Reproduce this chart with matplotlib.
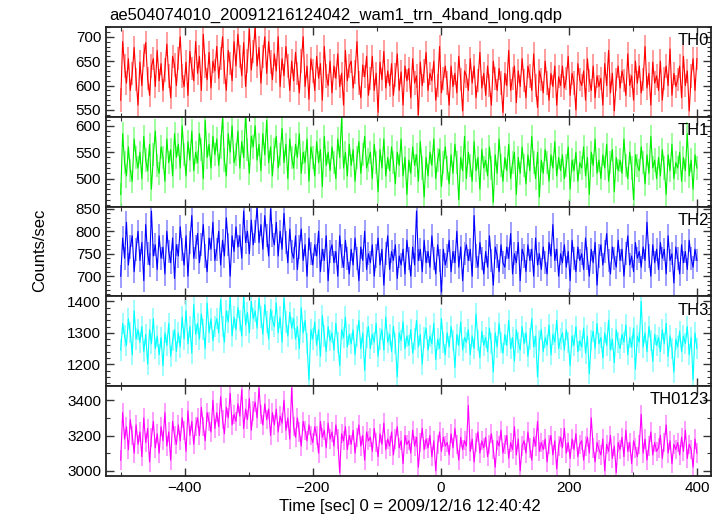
import numpy as np
import matplotlib
matplotlib.use("Agg")
import matplotlib.pyplot as plt
from matplotlib.ticker import MultipleLocator

plt.rcParams['font.family'] = ['Liberation Sans', 'DejaVu Sans']

title = "ae504074010_20091216124042_wam1_trn_4band_long.qdp"
xlabel = "Time [sec] 0 = 2009/12/16 12:40:42"
ylabel = "Counts/sec"

t_start, t_step, n_pts = -500, 3, 301
time = [t_start + t_step * i for i in range(n_pts)]

th0 = [570, 690, 640, 605, 655, 590, 625, 678, 612, 560,
       648, 600, 662, 688, 615, 580, 640, 655, 598, 672,
       610, 645, 590, 632, 685, 620, 575, 660, 642, 600,
       655, 700, 620, 598, 648, 580, 670, 635, 610, 690,
       625, 660, 590, 705, 640, 612, 668, 595, 650, 630,
       680, 615, 655, 700, 628, 590, 672, 645, 610, 690,
       640, 705, 660, 620, 688, 598, 650, 715, 632, 670,
       720, 640, 678, 605, 660, 700, 625, 690, 648, 612,
       665, 630, 700, 598, 655, 620, 680, 640, 590, 650,
       610, 668, 625, 585, 650, 700, 598, 640, 572, 655,
       630, 590, 660, 615, 645, 570, 680, 620, 600, 650,
       585, 640, 615, 665, 598, 625, 560, 672, 610, 640,
       650, 595, 628, 690, 605, 575, 642, 618, 660, 580,
       615, 660, 590, 625, 545, 648, 612, 670, 595, 630,
       600, 645, 580, 622, 665, 590, 628, 560, 640, 610,
       635, 575, 655, 605, 620, 540, 648, 600, 630, 668,
       590, 625, 610, 650, 570, 600, 680, 585, 615, 640,
       605, 560, 640, 598, 625, 585, 660, 612, 548, 630,
       620, 590, 655, 605, 640, 575, 610, 668, 595, 625,
       580, 640, 600, 560, 650, 615, 590, 635, 605, 545,
       625, 600, 672, 590, 615, 640, 565, 630, 598, 655,
       610, 575, 640, 620, 590, 665, 600, 555, 630, 612,
       585, 650, 605, 570, 625, 598, 640, 560, 618, 600,
       640, 595, 615, 660, 580, 625, 605, 550, 645, 612,
       600, 630, 570, 655, 610, 590, 640, 575, 620, 598,
       615, 560, 645, 600, 672, 585, 625, 548, 612, 640,
       595, 630, 610, 580, 665, 600, 620, 570, 650, 605,
       640, 585, 612, 680, 595, 625, 560, 648, 605, 620,
       590, 650, 570, 615, 640, 600, 675, 580, 625, 598,
       612, 640, 575, 660, 600, 630, 548, 620, 655, 590,
       655]

th1 = [470, 585, 530, 505, 560, 515, 495, 575, 540, 520,
       550, 500, 580, 535, 515, 565, 480, 545, 590, 525,
       510, 560, 540, 495, 575, 530, 555, 505, 585, 540,
       565, 520, 600, 545, 505, 570, 535, 590, 515, 550,
       530, 585, 555, 500, 610, 540, 565, 520, 580, 545,
       575, 525, 560, 615, 535, 505, 585, 550, 600, 530,
       545, 590, 520, 570, 540, 620, 555, 510, 580, 560,
       600, 535, 565, 515, 585, 545, 610, 530, 560, 505,
       555, 580, 520, 545, 595, 530, 565, 500, 575, 540,
       520, 565, 540, 585, 510, 550, 530, 575, 495, 560,
       540, 505, 570, 530, 555, 485, 580, 525, 550, 515,
       560, 530, 500, 575, 540, 615, 520, 550, 505, 565,
       525, 555, 495, 540, 570, 510, 545, 580, 520, 535,
       550, 500, 565, 530, 475, 555, 520, 575, 505, 540,
       515, 560, 530, 490, 550, 525, 575, 505, 540, 470,
       535, 510, 560, 525, 545, 495, 570, 520, 465, 540,
       505, 550, 525, 575, 500, 535, 555, 485, 530, 560,
       520, 490, 545, 510, 565, 530, 460, 540, 515, 580,
       500, 550, 525, 495, 570, 515, 540, 480, 555, 520,
       535, 505, 560, 520, 455, 545, 510, 575, 525, 495,
       540, 515, 565, 500, 530, 550, 470, 540, 510, 560,
       525, 490, 545, 515, 580, 530, 500, 550, 465, 535,
       510, 555, 530, 495, 545, 520, 570, 505, 540, 515,
       545, 500, 525, 560, 480, 535, 515, 550, 495, 530,
       520, 560, 505, 540, 470, 550, 525, 575, 510, 535,
       500, 545, 520, 565, 495, 530, 555, 475, 540, 515,
       535, 510, 575, 525, 500, 550, 520, 460, 545, 525,
       515, 560, 530, 490, 545, 510, 580, 520, 535, 500,
       540, 505, 555, 520, 470, 545, 515, 565, 500, 530,
       520, 550, 495, 540, 515, 585, 505, 535, 480, 545,
       520]

th2 = [700, 785, 740, 820, 725, 765, 790, 710, 760, 800,
       735, 775, 690, 815, 750, 725, 845, 745, 770, 715,
       790, 740, 765, 705, 800, 755, 730, 785, 695, 770,
       745, 810, 760, 725, 790, 700, 775, 835, 740, 765,
       795, 730, 770, 815, 745, 710, 785, 760, 820, 735,
       760, 800, 725, 780, 745, 830, 770, 700, 790, 755,
       810, 765, 790, 740, 845, 775, 800, 750, 825, 770,
       800, 855, 775, 815, 760, 835, 790, 745, 850, 790,
       770, 820, 745, 800, 760, 840, 775, 730, 805, 755,
       740, 790, 715, 765, 805, 735, 770, 700, 785, 750,
       725, 770, 745, 800, 710, 760, 735, 790, 690, 755,
       770, 730, 755, 700, 790, 745, 720, 780, 740, 705,
       760, 725, 785, 740, 690, 765, 735, 800, 715, 750,
       730, 770, 700, 745, 785, 725, 760, 680, 750, 790,
       715, 755, 735, 770, 695, 745, 725, 760, 705, 780,
       740, 700, 765, 725, 845, 735, 760, 710, 780, 730,
       755, 720, 790, 740, 705, 770, 735, 665, 760, 725,
       745, 780, 710, 755, 730, 800, 720, 765, 690, 750,
       770, 735, 760, 700, 835, 745, 720, 775, 740, 705,
       755, 720, 790, 735, 680, 765, 745, 710, 770, 730,
       720, 765, 740, 795, 705, 750, 730, 775, 690, 760,
       745, 710, 770, 735, 760, 700, 785, 725, 750, 715,
       765, 730, 705, 775, 745, 815, 735, 760, 700, 750,
       730, 770, 720, 755, 690, 780, 740, 710, 765, 735,
       750, 715, 785, 740, 700, 760, 730, 775, 680, 745,
       770, 725, 755, 795, 735, 705, 765, 740, 720, 780,
       735, 760, 700, 750, 790, 725, 745, 710, 775, 740,
       755, 720, 765, 735, 820, 745, 700, 770, 730, 760,
       715, 775, 740, 760, 705, 790, 735, 750, 685, 765,
       740, 705, 770, 730, 755, 715, 780, 740, 720, 760,
       735]

th3 = [1245, 1330, 1290, 1260, 1345, 1300, 1230, 1370, 1280, 1310,
       1270, 1320, 1240, 1295, 1200, 1310, 1265, 1345, 1250, 1290,
       1230, 1285, 1195, 1300, 1260, 1330, 1225, 1275, 1310, 1240,
       1300, 1255, 1350, 1280, 1370, 1265, 1320, 1235, 1390, 1295,
       1330, 1280, 1360, 1310, 1250, 1395, 1300, 1345, 1275, 1320,
       1345, 1300, 1405, 1320, 1270, 1370, 1335, 1415, 1290, 1350,
       1310, 1380, 1340, 1290, 1415, 1325, 1365, 1300, 1400, 1345,
       1370, 1315, 1410, 1350, 1295, 1390, 1335, 1280, 1375, 1340,
       1320, 1395, 1300, 1350, 1270, 1410, 1335, 1290, 1365, 1315,
       1345, 1280, 1320, 1250, 1380, 1300, 1340, 1265, 1150, 1310,
       1280, 1335, 1260, 1310, 1225, 1355, 1290, 1240, 1320, 1275,
       1300, 1245, 1330, 1270, 1195, 1310, 1285, 1350, 1255, 1295,
       1265, 1310, 1230, 1290, 1340, 1250, 1300, 1180, 1285, 1320,
       1250, 1295, 1270, 1330, 1225, 1280, 1310, 1245, 1350, 1270,
       1295, 1240, 1320, 1265, 1160, 1300, 1275, 1335, 1250, 1290,
       1260, 1310, 1235, 1280, 1340, 1255, 1295, 1200, 1285, 1315,
       1245, 1290, 1265, 1330, 1215, 1280, 1250, 1345, 1270, 1230,
       1300, 1255, 1320, 1275, 1190, 1295, 1260, 1335, 1245, 1285,
       1270, 1310, 1230, 1290, 1250, 1360, 1275, 1220, 1305, 1260,
       1285, 1240, 1315, 1265, 1175, 1300, 1255, 1330, 1270, 1235,
       1295, 1260, 1340, 1250, 1285, 1210, 1310, 1270, 1245, 1320,
       1265, 1300, 1225, 1280, 1345, 1255, 1290, 1160, 1275, 1310,
       1240, 1285, 1260, 1325, 1230, 1295, 1270, 1340, 1250, 1280,
       1300, 1245, 1310, 1270, 1195, 1290, 1260, 1320, 1240, 1275,
       1255, 1315, 1235, 1290, 1170, 1275, 1305, 1250, 1330, 1265,
       1285, 1220, 1300, 1260, 1340, 1245, 1280, 1205, 1310, 1270,
       1250, 1295, 1270, 1325, 1230, 1285, 1255, 1315, 1185, 1290,
       1270, 1400, 1255, 1300, 1240, 1320, 1275, 1210, 1295, 1260,
       1285, 1240, 1310, 1265, 1330, 1225, 1290, 1250, 1175, 1280,
       1255, 1305, 1240, 1290, 1265, 1320, 1230, 1285, 1150, 1300,
       1250]

th0123 = [3060, 3330, 3180, 3250, 3120, 3290, 3200, 3100, 3260, 3150,
          3220, 3080, 3300, 3160, 3240, 3050, 3190, 3280, 3130, 3210,
          3100, 3250, 3170, 3330, 3140, 3220, 3060, 3280, 3200, 3150,
          3260, 3170, 3300, 3230, 3110, 3340, 3200, 3280, 3150, 3250,
          3300, 3200, 3360, 3250, 3170, 3330, 3280, 3220, 3400, 3240,
          3330, 3250, 3420, 3290, 3210, 3360, 3300, 3440, 3260, 3320,
          3280, 3380, 3310, 3460, 3240, 3350, 3290, 3410, 3230, 3340,
          3390, 3300, 3470, 3320, 3260, 3380, 3290, 3350, 3200, 3330,
          3260, 3350, 3220, 3310, 3270, 3400, 3230, 3300, 3180, 3470,
          3250, 3190, 3300, 3220, 3140, 3280, 3230, 3170, 3260, 3200,
          3160, 3250, 3200, 3100, 3280, 3190, 3230, 3130, 3270, 3180,
          3220, 3140, 3260, 3180, 2990, 3210, 3170, 3250, 3120, 3200,
          3150, 3230, 3100, 3190, 3260, 3140, 3200, 3060, 3220, 3170,
          3190, 3110, 3240, 3160, 3080, 3210, 3150, 3270, 3120, 3180,
          3140, 3220, 3090, 3180, 3250, 3130, 3170, 3040, 3200, 3150,
          3170, 3100, 3230, 3140, 3190, 3020, 3160, 3240, 3120, 3180,
          3130, 3200, 3080, 3170, 3000, 3150, 3220, 3110, 3190, 3140,
          3160, 3090, 3210, 3130, 3240, 3150, 3060, 3190, 3120, 3170,
          3140, 3370, 3110, 3180, 3050, 3160, 3220, 3100, 3170, 3130,
          3190, 3080, 3150, 3210, 3120, 3020, 3170, 3140, 3230, 3100,
          3150, 3200, 3070, 3160, 3120, 3250, 3090, 3180, 3000, 3140,
          3170, 3100, 3220, 3130, 3060, 3190, 3140, 3280, 3110, 3160,
          3120, 3180, 3050, 3150, 3200, 3090, 3170, 3010, 3140, 3190,
          3130, 3240, 3100, 3160, 3070, 3180, 3120, 3210, 3080, 3150,
          3170, 3060, 3140, 3190, 3100, 3300, 3130, 3050, 3160, 3120,
          3090, 3180, 3000, 3150, 3110, 3200, 3070, 3140, 2990, 3160,
          3120, 3190, 3080, 3230, 3110, 3160, 3040, 3170, 3130, 3080,
          3150, 3320, 3100, 3180, 3060, 3140, 3220, 3090, 3160, 3110,
          3130, 3200, 3070, 3160, 3260, 3100, 3170, 3040, 3150, 3120,
          3160, 3090, 3190, 3110, 3230, 3070, 3150, 3120, 3020, 3180,
          3100]

errs = [24, 22, 26, 34, 55]

names = ["TH0", "TH1", "TH2", "TH3", "TH0123"]
series = [th0, th1, th2, th3, th0123]
colors = ["#ff0000", "#00ee00", "#0000ff", "#00ffff", "#ff00ff"]
halo = ["#ff8c8c", "#8cff8c", "#8c8cff", "#8cffff", "#ff8cff"]
ylims = [(536, 720), (447, 617), (655, 855), (1130, 1416), (2970, 3480)]
yticks = [[550, 600, 650, 700], [500, 550, 600], [700, 750, 800, 850],
          [1200, 1300, 1400], [3000, 3200, 3400]]
yminor = [10, 10, 10, 20, 100]

fig = plt.figure(figsize=(7.24, 5.16), dpi=100)
left, right = 106 / 724, 711 / 724
top, bottom = 1 - 27 / 516, 1 - 476 / 516
h = (top - bottom) / 5

for k in range(5):
    ax = fig.add_axes([left, top - (k + 1) * h, right - left, h])
    ax.errorbar(time, series[k], yerr=errs[k], fmt='none', ecolor=halo[k],
                elinewidth=1.2, capsize=0)
    ax.plot(time, series[k], color=colors[k], lw=0.8)
    ax.set_xlim(-523, 422)
    ax.set_ylim(*ylims[k])
    ax.set_yticks(yticks[k])
    ax.yaxis.set_minor_locator(MultipleLocator(yminor[k]))
    ax.xaxis.set_major_locator(MultipleLocator(200))
    ax.xaxis.set_minor_locator(MultipleLocator(100))
    ax.tick_params(which='both', direction='in', top=True, right=True,
                   labelsize=11, color='#333333')
    ax.tick_params(which='major', length=6, width=1)
    ax.tick_params(which='minor', length=3, width=0.8)
    for s in ax.spines.values():
        s.set_linewidth(1.3)
        s.set_color('#222222')
    ax.text(0.997, 0.93, names[k], transform=ax.transAxes, ha='right',
            va='top', fontsize=12)
    if k < 4:
        ax.tick_params(labelbottom=False)
    else:
        ax.set_xticks([-400, -200, 0, 200, 400])

fig.text(109 / 724, 1 - 15 / 516, title, ha='left', va='center', fontsize=12)
fig.text(0.566, 1 - 507 / 516, xlabel, ha='center', va='center', fontsize=12)
fig.text(40 / 724, 0.515, ylabel, ha='center', va='center', rotation=90, fontsize=12)

fig.savefig("out.png", dpi=100)
